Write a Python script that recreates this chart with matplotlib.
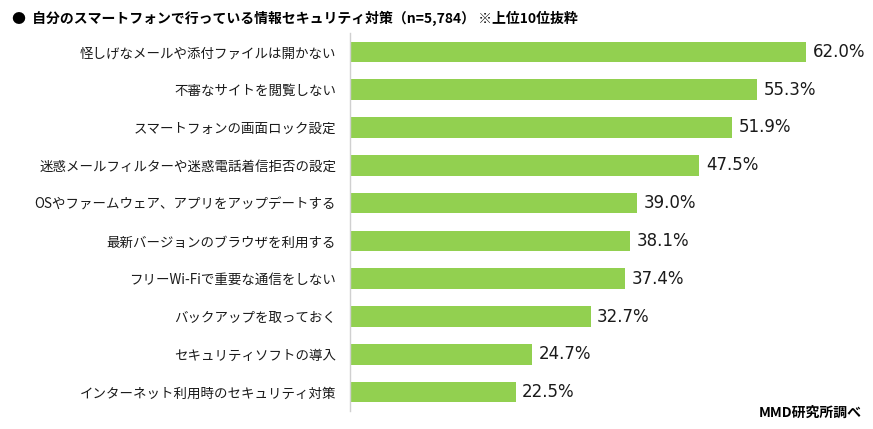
import matplotlib
matplotlib.use("Agg")
import matplotlib.pyplot as plt

plt.rcParams['font.family'] = ['Noto Sans CJK JP', 'DejaVu Sans']

# データ（上位10位）
labels = [
    '怪しげなメールや添付ファイルは開かない',
    '不審なサイトを閲覧しない',
    'スマートフォンの画面ロック設定',
    '迷惑メールフィルターや迷惑電話着信拒否の設定',
    'OSやファームウェア、アプリをアップデートする',
    '最新バージョンのブラウザを利用する',
    'フリーWi-Fiで重要な通信をしない',
    'バックアップを取っておく',
    'セキュリティソフトの導入',
    'インターネット利用時のセキュリティ対策',
]
values = [62.0, 55.3, 51.9, 47.5, 39.0, 38.1, 37.4, 32.7, 24.7, 22.5]

title = '●  自分のスマートフォンで行っている情報セキュリティ対策（n=5,784） ※上位10位抜粋'
source = 'MMD研究所調べ'

fig = plt.figure(figsize=(8.73, 4.29), dpi=100)
ax = fig.add_axes([350 / 873, 18 / 429, 523 / 873, 378 / 429])

pos = list(range(len(values)))
ax.barh(pos, values, height=0.54, color='#92D050')
ax.set_xlim(0, 71.1)
ax.set_ylim(len(values) - 0.5, -0.5)

for p, v in zip(pos, values):
    ax.text(v + 0.9, p, f'{v:.1f}%', va='center', ha='left',
            fontsize=12, family='DejaVu Sans', color='#1a1a1a')

ax.set_yticks(pos)
ax.set_yticklabels(labels, fontsize=9.7, color='#1a1a1a')
ax.tick_params(axis='y', length=0, pad=10)
ax.set_xticks([])
for s in ['top', 'right', 'bottom']:
    ax.spines[s].set_visible(False)
ax.spines['left'].set_color('#d0d0d0')
ax.spines['left'].set_linewidth(1)

fig.text(12 / 873, 1 - 18 / 429, title, fontsize=10, fontweight='bold',
         va='center', ha='left')
fig.text(862 / 873, 1 - 413 / 429, source, fontsize=10, fontweight='bold',
         va='center', ha='right')

fig.savefig('out.png', dpi=100)
